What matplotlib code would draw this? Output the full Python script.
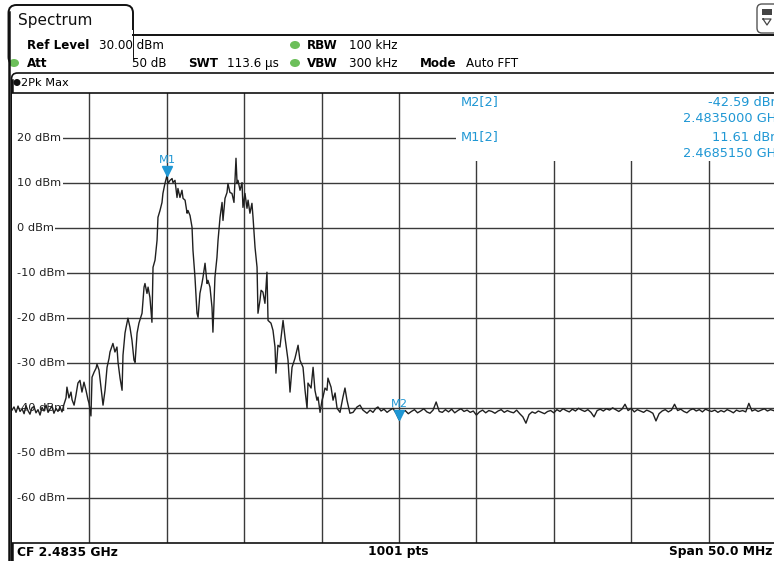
"""Spectrum analyzer screen: 2Pk Max trace around 2.4835 GHz."""

import numpy as np
import matplotlib
matplotlib.use("Agg")
import matplotlib.pyplot as plt
from matplotlib.patches import FancyBboxPatch, Rectangle, Ellipse
from matplotlib.transforms import offset_copy

CF_GHZ = 2.4835
SPAN_MHZ = 50.0
REF_DBM = 30.0
N_DIV = 10

level_ticks = [20, 10, 0, -10, -20, -30, -40, -50, -60]
level_labels = ["20 dBm", "10 dBm", "0 dBm", "-10 dBm", "-20 dBm",
                "-30 dBm", "-40 dBm", "-50 dBm", "-60 dBm"]

# trace, frequency as MHz from the start of the span
sig_mhz = [0.00, 0.13, 0.26, 0.39, 0.52, 0.65, 0.78, 0.90, 1.03, 1.16,
           1.29, 1.42, 1.55, 1.68, 1.81, 1.94, 2.07, 2.20, 2.33, 2.45,
           2.58, 2.71, 2.84, 2.97, 3.10, 3.23, 3.36, 3.49, 3.55, 3.68,
           3.81, 3.88, 4.01, 4.13, 4.26, 4.39, 4.52, 4.65, 4.78, 4.91,
           4.97, 5.10, 5.17, 5.30, 5.43, 5.49, 5.62, 5.68, 5.81, 5.88,
           6.01, 6.14, 6.27, 6.33, 6.52, 6.65, 6.78, 6.85, 6.98, 7.11,
           7.17, 7.30, 7.36, 7.49, 7.62, 7.75, 7.88, 7.95, 8.08, 8.20,
           8.40, 8.53, 8.59, 8.72, 8.79, 8.91, 9.04, 9.11, 9.24, 9.37,
           9.43, 9.56, 9.69, 9.75, 9.88, 10.015, 10.08, 10.21, 10.34, 10.40,
           10.53, 10.66, 10.72, 10.85, 10.98, 11.05, 11.18, 11.31, 11.37, 11.50,
           11.63, 11.69, 11.82, 11.95, 12.02, 12.14, 12.27, 12.34, 12.47, 12.60,
           12.66, 12.79, 12.92, 12.98, 13.11, 13.24, 13.31, 13.44, 13.57, 13.63,
           13.76, 13.89, 13.95, 14.08, 14.21, 14.34, 14.47, 14.54, 14.60, 14.73,
           14.86, 14.92, 15.05, 15.18, 15.25, 15.37, 15.50, 15.57, 15.70, 15.83,
           15.89, 16.02, 16.09, 16.21, 16.34, 16.47, 16.54, 16.73, 16.86, 16.99,
           17.05, 17.18, 17.31, 17.51, 17.64, 17.83, 17.96, 18.09, 18.28, 18.48,
           18.60, 18.80, 18.93, 19.06, 19.12, 19.32, 19.45, 19.57, 19.70, 19.77,
           19.90, 20.03, 20.09, 20.22, 20.35, 20.41, 20.61, 20.74, 20.87, 21.00,
           21.19, 21.38, 21.51, 21.64, 21.83, 22.03, 22.29, 22.48, 22.67, 22.93,
           23.13, 23.32, 23.51, 23.64, 23.84, 24.03, 24.23, 24.42, 24.61, 24.81,
           25.00]
sig_dbm = [-40.5, -39.8, -41.0, -39.6, -40.8, -40.2, -41.3, -39.5, -40.6, -41.4,
           -40.0, -39.7, -41.1, -40.4, -41.6, -39.9, -40.7, -39.4, -41.0, -40.3,
           -39.6, -41.2, -40.1, -40.8, -39.8, -40.9, -39.2, -37.8, -35.4, -37.8,
           -36.5, -38.2, -39.4, -37.2, -34.5, -33.9, -36.5, -34.3, -36.1, -38.2,
           -38.9, -41.8, -33.2, -32.1, -31.2, -30.3, -31.6, -33.4, -37.2, -39.4,
           -36.1, -31.0, -29.0, -27.6, -25.7, -27.6, -26.5, -29.9, -33.4, -36.1,
           -28.3, -23.4, -22.3, -20.1, -22.1, -25.0, -29.4, -29.9, -23.4, -21.2,
           -19.0, -13.2, -12.4, -14.6, -13.2, -15.5, -21.0, -8.8, -7.2, -2.8,
           2.3, 3.8, 5.6, 7.6, 9.8, 11.61, 9.8, 10.5, 10.9, 10.0,
           10.5, 6.7, 8.7, 6.7, 8.3, 6.5, 6.1, 3.2, 3.8, 2.7,
           0.1, -5.0, -11.0, -19.0, -19.9, -14.6, -12.4, -11.0, -7.9, -12.4,
           -11.7, -13.2, -17.7, -23.2, -11.0, -6.6, -2.8, 2.3, 5.6, 1.6,
           6.5, 7.8, 9.8, 7.8, 7.6, 5.6, 15.4, 9.8, 10.5, 8.3,
           10.0, 4.5, 7.6, 4.3, 6.1, 3.2, 5.4, 2.3, -4.4, -8.8,
           -19.0, -16.1, -13.9, -14.3, -16.8, -9.9, -20.6, -21.2, -22.8, -26.5,
           -32.3, -26.1, -26.5, -20.6, -24.5, -29.4, -36.5, -31.0, -29.0, -26.1,
           -29.4, -31.0, -36.1, -40.1, -34.5, -35.6, -31.0, -36.1, -38.3, -37.6,
           -41.0, -38.3, -37.6, -35.6, -36.1, -33.4, -35.4, -38.3, -36.7, -40.1,
           -41.0, -37.6, -35.6, -38.3, -41.2, -41.0, -39.8, -39.4, -40.5, -41.2,
           -40.5, -41.0, -40.1, -39.8, -40.7, -40.3, -41.0, -40.5, -40.1, -41.2,
           -42.59]

# noise floor on the upper half, 0.2 MHz steps from 25.2 MHz
floor_dbm = [-41.0, -40.6, -41.3, -40.8, -40.4, -41.1, -40.7, -40.2, -40.9, -41.2,
             -40.5, -38.7, -40.8, -41.0, -40.4, -40.9, -40.3, -41.1, -40.6, -40.2,
             -40.8, -40.5, -41.0, -40.7, -41.6, -40.9, -40.5, -41.1, -40.6, -40.8,
             -41.2, -40.7, -40.4, -41.0, -40.6, -40.9, -41.1, -40.5, -41.3, -42.0,
             -43.4, -41.5, -40.9, -41.2, -40.7, -41.0, -41.3, -40.8, -40.6, -41.1,
             -40.4, -40.8, -40.2, -40.6, -40.9, -40.3, -40.7, -40.1, -40.5, -40.8,
             -40.4, -41.0, -42.0, -40.6, -40.3, -40.7, -40.2, -40.5, -40.0, -40.4,
             -40.8, -40.3, -39.2, -40.6, -40.1, -40.9, -40.4, -40.7, -41.0, -40.5,
             -40.8, -41.2, -42.9, -41.3, -40.7, -40.4, -40.9, -40.5, -39.2, -40.6,
             -40.3, -40.8, -41.1, -40.5, -40.2, -40.7, -40.4, -40.9, -40.3, -40.6,
             -40.8, -40.5, -41.0, -40.6, -40.9, -40.4, -40.7, -41.1, -40.5, -40.8,
             -40.6, -40.9, -39.0, -40.7, -40.4, -40.8, -40.5, -40.2, -40.7, -40.4,
             -40.6, -40.9, -40.3, -40.7, -40.5]
floor_mhz = 25.2 + 0.2 * np.arange(len(floor_dbm))

marker_names = ["M1", "M2"]
marker_mhz = [10.015, 25.0]
marker_dbm = [11.61, -42.59]
marker_ghz = ["2.4685150 GHz", "2.4835000 GHz"]

BLUE = "#1f97d4"
GRID = "#3a3a3a"
GREEN = "#6cbf5a"
INK = "#111111"

fig = plt.figure(figsize=(7.74, 5.61), dpi=100)
W, H = 774, 561

# pixel canvas for the instrument chrome
ui = fig.add_axes([0, 0, 1, 1], zorder=0)
ui.set_xlim(0, W)
ui.set_ylim(H, 0)
ui.axis("off")
px = ui.transData

# tab and window outlines
tab = FancyBboxPatch((8.5, 5), 124.5, 60, boxstyle="round,pad=0,rounding_size=8",
                     fc="white", ec=INK, lw=1.4)
ui.add_patch(tab)
ui.add_patch(Rectangle((9.5, 30), 123, 40, fc="white", ec="none"))
ui.plot([8.5, 8.5], [12, H], color=INK, lw=1.8)
ui.plot([133, W], [34.5, 34.5], color=INK, lw=1.4)
ui.plot([11.5, 11.5], [80, H], color=INK, lw=1.8)
win = FancyBboxPatch((11.5, 73), 800, 600, boxstyle="round,pad=0,rounding_size=6",
                     fc="none", ec=INK, lw=1.2)
ui.add_patch(win)
icon = FancyBboxPatch((757, 4), 30, 29, boxstyle="round,pad=0,rounding_size=5",
                      fc="white", ec="#555555", lw=1.0)
ui.add_patch(icon)
ui.add_patch(Rectangle((762, 9), 10, 6, fc="#444444", ec="none"))
ui.plot([763, 771, 767, 763], [19, 19, 25, 19], color="#444444", lw=0.9)

ui.text(18, 20, "Spectrum", fontsize=11, va="center", color=INK)

row1, row2 = 45, 63
fs = 8.6
ui.text(27, row1, "Ref Level", fontsize=fs, fontweight="bold", va="center")
ui.text(99, row1, "30.00 dBm", fontsize=fs, va="center")
ui.text(27, row2, "Att", fontsize=fs, fontweight="bold", va="center")
ui.text(166, row2, "50 dB", fontsize=fs, va="center", ha="right")
ui.text(188, row2, "SWT", fontsize=fs, fontweight="bold", va="center")
ui.text(227, row2, "113.6 µs", fontsize=fs, va="center")
ui.text(307, row1, "RBW", fontsize=fs, fontweight="bold", va="center")
ui.text(349, row1, "100 kHz", fontsize=fs, va="center")
ui.text(307, row2, "VBW", fontsize=fs, fontweight="bold", va="center")
ui.text(349, row2, "300 kHz", fontsize=fs, va="center")
ui.text(420, row2, "Mode", fontsize=fs, fontweight="bold", va="center")
ui.text(466, row2, "Auto FFT", fontsize=fs, va="center")
for cx, cy in [(14, row2), (295, row1), (295, row2)]:
    ui.add_patch(Ellipse((cx, cy), 10, 8, fc=GREEN, ec="none"))

ui.add_patch(Ellipse((17, 82.5), 7, 7, fc=INK, ec="none"))
ui.text(21, 82.5, "2Pk Max", fontsize=8.2, va="center")

# bottom status bar
narrow = ["Liberation Sans Narrow", "DejaVu Sans"]
ui.text(17, 552, "CF 2.4835 GHz", fontsize=8.8, va="center", family=narrow,
        fontweight="bold")
ui.text(398, 552, "1001 pts", fontsize=8.8, va="center", ha="center",
        family=narrow, fontweight="bold")
ui.text(772, 552, "Span 50.0 MHz", fontsize=8.8, va="center", ha="right",
        family=narrow, fontweight="bold")

# the diagram itself (right edge lies past the picture, as on the screen)
x0, x1, y0, y1 = 12, 786, 92.5, 543
ax = fig.add_axes([x0 / W, 1 - y1 / H, (x1 - x0) / W, (y1 - y0) / H], zorder=1)
ax.patch.set_alpha(0)
ax.set_xlim(0, SPAN_MHZ)
ax.set_ylim(REF_DBM - 100, REF_DBM)
ax.set_xticks([])
ax.set_yticks([])
for side in ["top", "bottom"]:
    ax.spines[side].set_color(INK)
    ax.spines[side].set_linewidth(1.2)
ax.spines["left"].set_visible(False)
ax.spines["right"].set_visible(False)

step = SPAN_MHZ / N_DIV
for k in range(1, N_DIV):
    ax.axvline(k * step, color=GRID, lw=1.0, zorder=1)
for v in level_ticks:
    ax.axhline(v, color=GRID, lw=1.0, zorder=1)

# blank strip at the left edge so the level lines start after their labels
ax.add_patch(Rectangle((0, REF_DBM - 100), 0.4, 100, fc="white", ec="none",
                       zorder=1.5))
for v, lab in zip(level_ticks, level_labels):
    ax.text(0.35, v, lab, fontsize=8.2, va="center", ha="left", color="#222222",
            zorder=2, bbox=dict(boxstyle="square,pad=0.1", fc="white", ec="none"))

# marker table box on the upper right
ax.add_patch(Rectangle((28.7, 14.8), 30, 20, fc="white", ec="none", zorder=2))

trace_mhz = np.concatenate([sig_mhz, floor_mhz])
trace_dbm = np.concatenate([sig_dbm, floor_dbm])
ax.plot(trace_mhz, trace_dbm, color="#202020", lw=1.0, zorder=3, clip_on=True)

tri = offset_copy(ax.transData, fig=fig, x=0, y=3.0, units="points")
lab = offset_copy(ax.transData, fig=fig, x=0, y=11.0, units="points")
for name, f, v in zip(marker_names, marker_mhz, marker_dbm):
    ax.plot([f], [v], marker="v", ms=6.5, color=BLUE, mec=BLUE, transform=tri,
            zorder=4)
    ax.text(f, v, name, transform=lab, fontsize=8.2, color=BLUE, ha="center",
            va="center", zorder=4)

mfs = 9.3
rows = [(102, 118), (137, 153)]
for (ya, yb), name, v, g in zip(rows, marker_names[::-1], marker_dbm[::-1],
                                marker_ghz[::-1]):
    ax.text(461, ya, f"{name}[2]", transform=px, fontsize=mfs, color=BLUE,
            va="center", zorder=5)
    ax.text(783, ya, f"{v:.2f} dBm", transform=px, fontsize=mfs, color=BLUE,
            va="center", ha="right", zorder=5)
    ax.text(783, yb, g, transform=px, fontsize=mfs, color=BLUE,
            va="center", ha="right", zorder=5)

fig.savefig("out.png", dpi=100)
